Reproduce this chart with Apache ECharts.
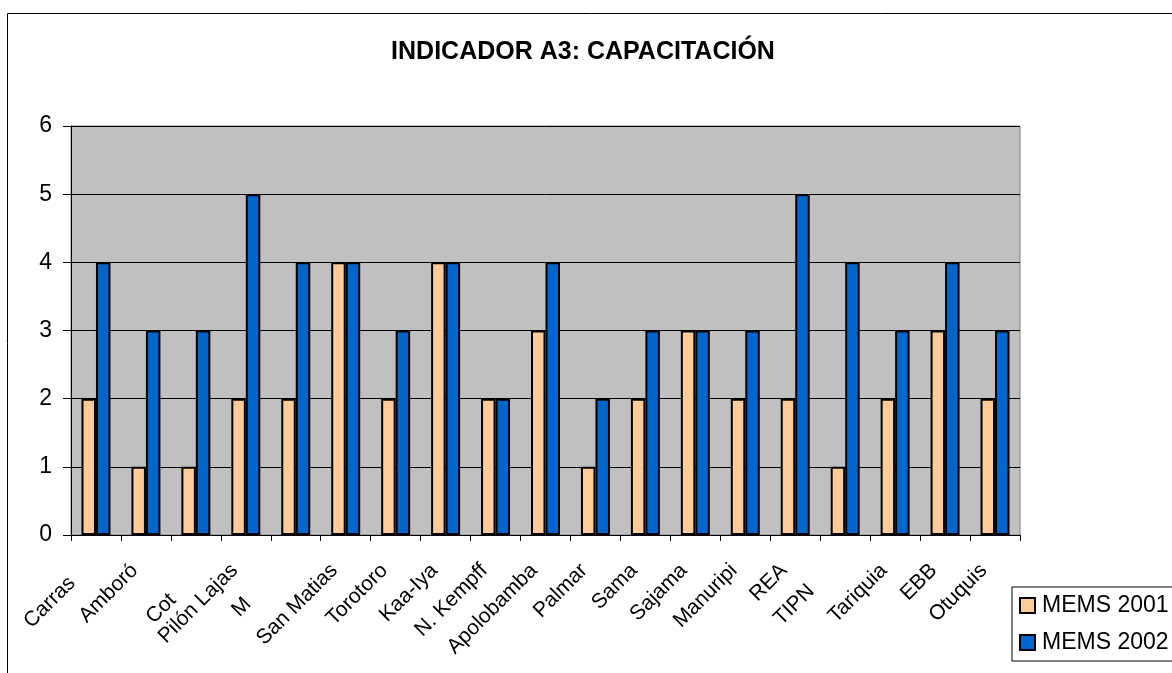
<!DOCTYPE html>
<html>
<head>
<meta charset="utf-8">
<script src="https://cdn.jsdelivr.net/npm/echarts@6/dist/echarts.min.js"></script>
<style>
  html, body { margin: 0; padding: 0; background: #fff; }
  #chart { width: 1172px; height: 673px; }
</style>
</head>
<body>
<div id="chart"></div>
<script>
// áreas protegidas (etiquetas tal como aparecen, algunas cortadas)
const categories = ['Carras', 'Amboró', 'Cot', 'Pilón Lajas', 'M', 'San Matias', 'Torotoro', 'Kaa-Iya',
  'N. Kempff', 'Apolobamba', 'Palmar', 'Sama', 'Sajama', 'Manuripi', 'REA', 'TIPN', 'Tariquia', 'EBB', 'Otuquis']
const mems2001 = [2, 1, 1, 2, 2, 4, 2, 4, 2, 3, 1, 2, 3, 2, 2, 1, 2, 3, 2]
const mems2002 = [4, 3, 3, 5, 4, 4, 3, 4, 2, 4, 2, 3, 3, 3, 5, 4, 3, 4, 3]
const yTicks = [0, 1, 2, 3, 4, 5, 6]

const FONT = 'Liberation Sans, Arial, sans-serif'

// etiquetas recortadas por Excel: se dibujan aparte, desplazadas desde el centro de su categoría
const trimmedShift = { 'Carras': [-24, 45], 'Cot': [-23, 62], 'M': [-48, 66], 'TIPN': [-34, 53] }

const chart = echarts.init(document.getElementById('chart'))

chart.setOption({
  animation: false,
  textStyle: { fontFamily: FONT, color: '#000' },
  title: {
    text: 'INDICADOR A3: CAPACITACIÓN',
    left: 578, top: 35, textAlign: 'center',
    textStyle: { fontSize: 25, fontWeight: 'bold', color: '#000', fontFamily: FONT },
  },
  legend: {
    left: 1012, top: 587,
    orient: 'vertical',
    itemWidth: 15, itemHeight: 15, itemGap: 12,
    padding: [6, 30, 6, 7],
    borderColor: '#000', borderWidth: 1,
    backgroundColor: '#fff',
    icon: 'rect',
    textStyle: { fontSize: 23, lineHeight: 25, color: '#000', fontFamily: FONT, padding: [0, 0, 0, 2] },
    data: ['MEMS 2001', 'MEMS 2002'],
  },
  grid: {
    left: 71, top: 126, width: 949, height: 409,
    show: true, backgroundColor: '#C0C0C0', borderColor: '#808080', borderWidth: 1,
  },
  xAxis: {
    type: 'category',
    data: categories,
    axisLine: { lineStyle: { color: '#000', width: 1 } },
    axisTick: { show: true, length: 6, lineStyle: { color: '#000' } },
    axisLabel: {
      rotate: 45, fontSize: 21, color: '#000', margin: 21, interval: 0, fontFamily: FONT,
      padding: [0, 16, 0, 0],
      formatter: (v) => (trimmedShift[v] ? '' : v),
    },
  },
  yAxis: {
    type: 'value',
    min: yTicks[0], max: yTicks[yTicks.length - 1], interval: 1,
    axisLine: { show: true, lineStyle: { color: '#000', width: 1 } },
    axisTick: { show: true, length: 8, lineStyle: { color: '#000' } },
    axisLabel: { fontSize: 23, color: '#000', margin: 19, fontFamily: FONT },
    splitLine: { lineStyle: { color: '#000', width: 1 } },
  },
  series: [{
    name: 'MEMS 2001',
    type: 'bar',
    data: mems2001,
    barGap: '0%',
    barCategoryGap: '42%',
    itemStyle: { color: '#FFCC99', borderColor: '#000', borderWidth: 2 },
  }, {
    name: 'MEMS 2002',
    type: 'bar',
    data: mems2002,
    itemStyle: { color: '#0066CC', borderColor: '#000', borderWidth: 2 },
  }],
})

// marco exterior + etiquetas recortadas, ubicadas con las escalas del gráfico
const axisY = chart.convertToPixel({ yAxisIndex: 0 }, 0)
const trimmedLabels = Object.keys(trimmedShift).map((name) => {
  const [dx, dy] = trimmedShift[name]
  return {
    type: 'text',
    x: chart.convertToPixel({ xAxisIndex: 0 }, name) + dx,
    y: axisY + dy,
    rotation: Math.PI / 4,
    style: {
      text: name, fontSize: 21, fontFamily: FONT, fill: '#000',
      align: 'right', textAlign: 'right', verticalAlign: 'middle', textVerticalAlign: 'middle',
    },
  }
})

chart.setOption({
  graphic: [{
    type: 'rect',
    shape: { x: 7.5, y: 13.5, width: 1200, height: 700 },
    style: { fill: 'none', stroke: '#000', lineWidth: 1 },
    z: -1,
  }, ...trimmedLabels],
})
</script>
</body>
</html>
